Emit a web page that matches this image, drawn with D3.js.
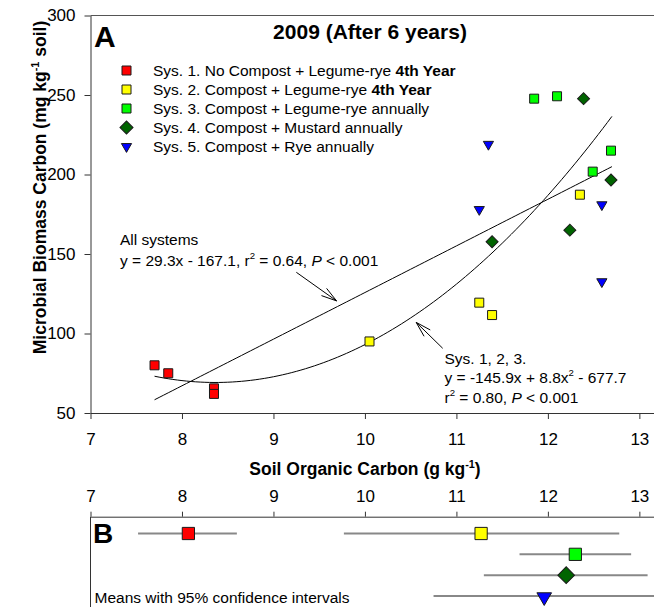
<!DOCTYPE html>
<html>
<head>
<meta charset="utf-8">
<script src="https://cdn.jsdelivr.net/npm/d3@7"></script>
<style>
  body { margin: 0; background: #fff; }
  svg { display: block; font-family: "Liberation Sans", Arial, sans-serif; }
</style>
</head>
<body>
<div id="chart"></div>
<script>
// soil organic carbon (g/kg) and microbial biomass carbon (mg/kg) per system
const socSys1 = [7.70, 7.85, 8.35, 8.35];
const mbcSys1 = [80, 75, 65.5, 62];
const socSys2 = [10.05, 11.25, 11.39, 12.35];
const mbcSys2 = [95, 119.4, 111.6, 187.3];
const socSys3 = [11.85, 12.10, 12.69, 12.49];
const mbcSys3 = [247.7, 249.2, 215, 201.8];
const socSys4 = [12.39, 12.69, 12.24, 11.39];
const mbcSys4 = [247.7, 196.5, 165, 157.7];
const socSys5 = [11.35, 11.25, 12.59, 12.59];
const mbcSys5 = [219, 178, 181, 132.6];

// panel B: means with 95% CI
const meanSoc = [8.07, 11.27, 12.30, 12.20, 11.96];
const ciLow = [7.52, 9.77, 11.69, 11.30, 10.75];
const ciHigh = [8.60, 12.78, 12.91, 13.09, 13.2];
const meanRow = [0, 0, 1, 2, 3];

const sysLabels = [
  ["Sys. 1. No Compost + Legume-rye ", "4th Year"],
  ["Sys. 2. Compost + Legume-rye ", "4th Year"],
  ["Sys. 3. Compost + Legume-rye annually", ""],
  ["Sys. 4. Compost + Mustard annually", ""],
  ["Sys. 5. Compost + Rye annually", ""]
];
const sysColors = ["#ff0000", "#ffff00", "#00ff00", "#006400", "#0000ff"];
const sysShapes = ["square", "square", "square", "diamond", "triangle"];

const xTicks = [7, 8, 9, 10, 11, 12, 13];
const yTicks = [50, 100, 150, 200, 250, 300];

const socAll = [socSys1, socSys2, socSys3, socSys4, socSys5];
const mbcAll = [mbcSys1, mbcSys2, mbcSys3, mbcSys4, mbcSys5];

const width = 654, height = 607;

const svg = d3.select("#chart").append("svg")
  .attr("width", width)
  .attr("height", height);

const x = d3.scaleLinear().domain([7, 13.16]).range([90.5, 654]);
const y = d3.scaleLinear().domain([50, 300]).range([413, 15.5]);

// least squares polynomial fit, returns [c0, c1, c2...]
function polyfit(xs, ys, deg) {
  const n = deg + 1;
  const A = Array.from({ length: n }, () => new Array(n + 1).fill(0));
  xs.forEach((xv, k) => {
    for (let i = 0; i < n; i++) {
      for (let j = 0; j < n; j++) A[i][j] += Math.pow(xv, i + j);
      A[i][n] += ys[k] * Math.pow(xv, i);
    }
  });
  for (let i = 0; i < n; i++) {
    let p = i;
    for (let r = i + 1; r < n; r++) if (Math.abs(A[r][i]) > Math.abs(A[p][i])) p = r;
    [A[i], A[p]] = [A[p], A[i]];
    for (let r = 0; r < n; r++) {
      if (r === i) continue;
      const f = A[r][i] / A[i][i];
      for (let c = i; c <= n; c++) A[r][c] -= f * A[i][c];
    }
  }
  return A.map((row, i) => row[n] / row[i]);
}

function symbolPath(shape, big) {
  if (shape === "square") return d3.symbol(d3.symbolSquare, big ? 150 : 81)();
  if (shape === "diamond") return d3.symbol(d3.symbolSquare, big ? 139 : 72)();
  return d3.symbol(d3.symbolTriangle, big ? 93 : 45)();
}
function symbolRotate(shape) {
  if (shape === "diamond") return " rotate(45)";
  if (shape === "triangle") return " rotate(180)";
  return "";
}

// write a text with parts: {t, b, i, sup}
function richText(g, px, py, parts, fs, anchor) {
  const t = g.append("text")
    .attr("x", px).attr("y", py)
    .attr("font-size", fs)
    .attr("text-anchor", anchor || "start")
    .attr("fill", "#000");
  let shifted = false;
  parts.forEach(p => {
    const s = t.append("tspan").text(p.t);
    if (p.b) s.attr("font-weight", "bold");
    if (p.i) s.attr("font-style", "italic");
    if (p.sup) {
      s.attr("font-size", fs * 0.62).attr("dy", -fs * 0.42);
      shifted = true;
    } else if (shifted) {
      s.attr("dy", fs * 0.42);
      shifted = false;
    }
  });
  return t;
}

// ---------- panel A ----------
const xAxisA = svg.append("g")
  .attr("transform", "translate(0,413)")
  .call(d3.axisBottom(x).tickValues(xTicks).tickFormat(d3.format("d"))
    .tickSize(6).tickSizeOuter(0).tickPadding(14));
const yAxisA = svg.append("g")
  .attr("transform", "translate(90.5,0)")
  .call(d3.axisLeft(y).tickValues(yTicks).tickSize(6).tickSizeOuter(0).tickPadding(9));
[xAxisA, yAxisA].forEach(a => {
  a.selectAll("path, line").attr("stroke", "#333");
  a.selectAll("text").attr("font-size", 17).attr("fill", "#000")
    .style("font-family", "'Liberation Sans', Arial, sans-serif");
});
svg.append("line")
  .attr("x1", x(7)).attr("x2", width)
  .attr("y1", y(300)).attr("y2", y(300))
  .attr("stroke", "#555");

// fit lines
const fitRange = d3.range(7.7, 12.7001, 0.05);
const allX = socAll.flat(), allY = mbcAll.flat();
const lin = polyfit(allX, allY, 1);
const quad = polyfit([...socSys1, ...socSys2, ...socSys3], [...mbcSys1, ...mbcSys2, ...mbcSys3], 2);
const line = d3.line().x(d => x(d[0])).y(d => y(d[1]));
svg.append("path")
  .attr("d", line(fitRange.map(v => [v, lin[0] + lin[1] * v])))
  .attr("fill", "none").attr("stroke", "#000").attr("stroke-width", 1);
svg.append("path")
  .attr("d", line(fitRange.map(v => [v, quad[0] + quad[1] * v + quad[2] * v * v])))
  .attr("fill", "none").attr("stroke", "#000").attr("stroke-width", 1);

// points
socAll.forEach((xs, s) => {
  svg.append("g").selectAll("path")
    .data(xs.map((v, k) => [v, mbcAll[s][k]]))
    .join("path")
    .attr("d", symbolPath(sysShapes[s], false))
    .attr("transform", d => `translate(${x(d[0])},${y(d[1])})` + symbolRotate(sysShapes[s]))
    .attr("fill", sysColors[s])
    .attr("stroke", "#1a1a1a")
    .attr("stroke-width", 1);
});

// annotations + arrows
function arrow(from, to) {
  const x1 = x(from[0]), y1 = y(from[1]), x2 = x(to[0]), y2 = y(to[1]);
  const ang = Math.atan2(y2 - y1, x2 - x1);
  const len = 16, spread = 0.28;
  const g = svg.append("g").attr("stroke", "#000").attr("stroke-width", 1).attr("fill", "none");
  g.append("line").attr("x1", x1).attr("y1", y1).attr("x2", x2).attr("y2", y2);
  [-spread, spread].forEach(a => {
    g.append("line")
      .attr("x1", x2).attr("y1", y2)
      .attr("x2", x2 - len * Math.cos(ang + a))
      .attr("y2", y2 - len * Math.sin(ang + a));
  });
}
arrow([9.25, 138.5], [9.69, 120.5]);
arrow([10.85, 90.7], [10.56, 107]);

richText(svg, 120, 245, [{ t: "All systems" }], 15.5);
richText(svg, 120, 265.5, [
  { t: "y = 29.3x - 167.1, r" }, { t: "2", sup: true }, { t: " = 0.64, " },
  { t: "P", i: true }, { t: " < 0.001" }
], 15.5);
richText(svg, 444.5, 364, [{ t: "Sys. 1, 2, 3." }], 15.5);
richText(svg, 444.5, 383, [
  { t: "y = -145.9x + 8.8x" }, { t: "2", sup: true }, { t: " - 677.7" }
], 15.5);
richText(svg, 444.5, 402.5, [
  { t: "r" }, { t: "2", sup: true }, { t: " = 0.80, " }, { t: "P", i: true }, { t: " < 0.001" }
], 15.5);

// title and panel letter
richText(svg, 370, 39, [{ t: "2009 (After 6 years)", b: true }], 21, "middle");
richText(svg, 94, 46.5, [{ t: "A", b: true }], 30);

// legend
sysLabels.forEach((lab, s) => {
  const cy = 70.5 + s * 19;
  svg.append("path")
    .attr("d", s === 3 ? d3.symbol(d3.symbolSquare, 85)() : symbolPath(sysShapes[s], false))
    .attr("transform", `translate(126.5,${cy})` + symbolRotate(sysShapes[s]))
    .attr("fill", sysColors[s]).attr("stroke", "#1a1a1a");
  const parts = [{ t: lab[0] }];
  if (lab[1]) parts.push({ t: lab[1], b: true });
  richText(svg, 153, cy + 5.5, parts, 15.5);
});

// axis titles
richText(svg, 365, 475, [
  { t: "Soil Organic Carbon (g kg", b: true }, { t: "-1", b: true, sup: true }, { t: ")", b: true }
], 17.5, "middle");
const yt = svg.append("g").attr("transform", "translate(46,187.5) rotate(-90)");
richText(yt, 0, 0, [
  { t: "Microbial Biomass Carbon (mg kg", b: true }, { t: "-1", b: true, sup: true }, { t: " soil)", b: true }
], 17.5, "middle");

// ---------- panel B ----------
const row = d3.scaleLinear().domain([0, 3]).range([533.5, 596]);
const xAxisB = svg.append("g")
  .attr("transform", "translate(0,516.7)")
  .call(d3.axisTop(x).tickValues(xTicks).tickFormat(d3.format("d"))
    .tickSize(5).tickSizeOuter(0).tickPadding(10));
xAxisB.selectAll("path, line").attr("stroke", "#333");
xAxisB.selectAll("text").attr("font-size", 17).attr("fill", "#000")
  .style("font-family", "'Liberation Sans', Arial, sans-serif");
svg.append("line")
  .attr("x1", x(7)).attr("x2", x(7))
  .attr("y1", 516.7).attr("y2", height)
  .attr("stroke", "#333");

svg.append("g").selectAll("line")
  .data(meanSoc.map((m, i) => i))
  .join("line")
  .attr("x1", i => x(ciLow[i])).attr("x2", i => x(ciHigh[i]))
  .attr("y1", i => row(meanRow[i])).attr("y2", i => row(meanRow[i]))
  .attr("stroke", "#888").attr("stroke-width", 2);

svg.append("g").selectAll("path")
  .data(meanSoc.map((m, i) => i))
  .join("path")
  .attr("d", i => symbolPath(sysShapes[i], true))
  .attr("transform", i => `translate(${x(meanSoc[i])},${row(meanRow[i]) + (sysShapes[i] === "triangle" ? 1 : 0)})` + symbolRotate(sysShapes[i]))
  .attr("fill", i => sysColors[i])
  .attr("stroke", "#1a1a1a");

richText(svg, 93, 543, [{ t: "B", b: true }], 28);
richText(svg, 94.5, 602.5, [{ t: "Means with 95% confidence intervals" }], 15.5);
</script>
</body>
</html>
